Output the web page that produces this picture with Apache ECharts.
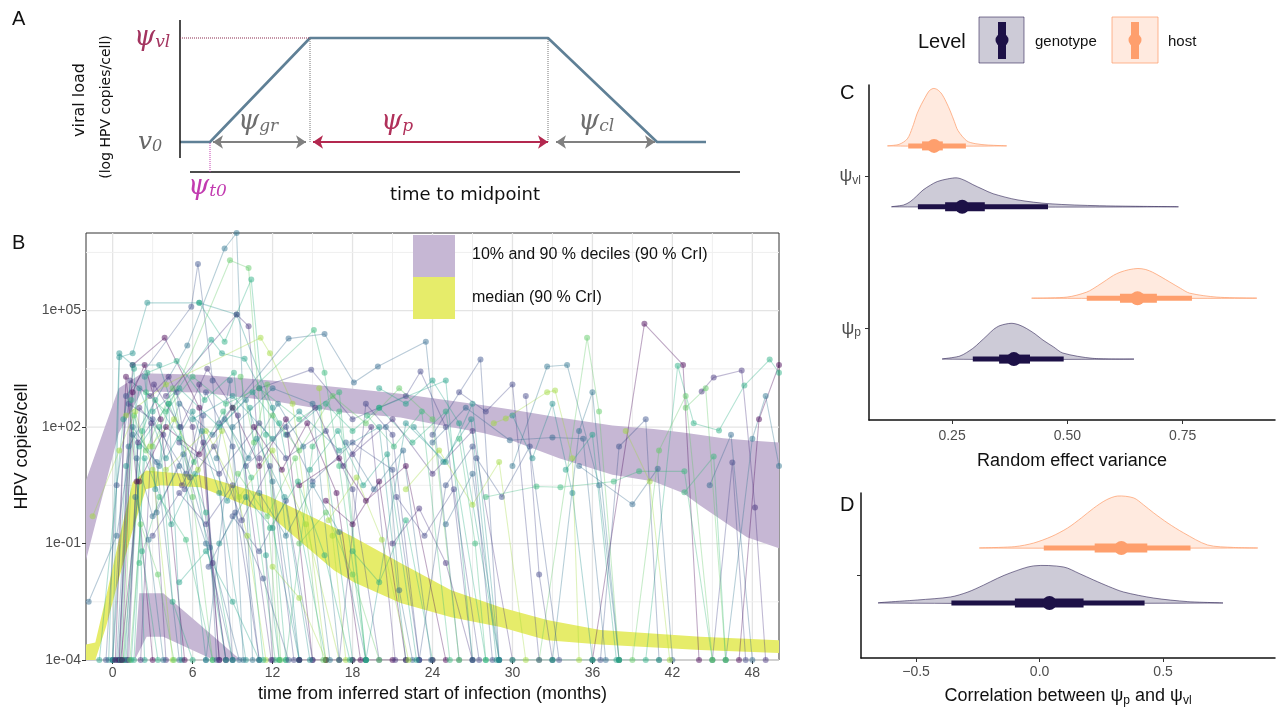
<!DOCTYPE html>
<html><head><meta charset="utf-8">
<script src="https://cdn.jsdelivr.net/npm/echarts@6/dist/echarts.min.js"></script>
<style>html,body{margin:0;padding:0;background:#fff}#c{width:1281px;height:711px}</style>
</head><body><div id="c"></div>
<script>
// ================= DATA =================
// Panel A: schematic trajectory (arbitrary time / load units)
const schemX = [0, 3, 13, 36.8, 47.7, 52.6];
const schemY = [3, 3, 13.4, 13.4, 3, 3];

// Panel B: axis ticks
const xTicksB = [0, 6, 12, 18, 24, 30, 36, 42, 48];
const xMinorB = [3, 9, 15, 21, 27, 33, 39, 45];
const yTicksB = [-4, -1, 2, 5];               // log10 copies/cell
const yMinorB = [-2.5, 0.5, 3.5, 6.5];
const yTickLabelsB = ['1e-04', '1e-01', '1e+02', '1e+05'];

// Panel B: upper decile band (90% CrI), log10 scale
const upperBandX  = [-2, 0.45, 2.2, 6.6, 11.9, 17.1, 21.6, 23.9, 27.8, 29.9, 33.5, 37.5, 40.6, 42.8, 44, 45.8, 47.6, 50];
const upperBandHi = [0.63, 3.0, 3.39, 3.35, 3.2, 3.02, 2.86, 2.75, 2.56, 2.45, 2.25, 2.04, 1.95, 1.86, 1.8, 1.71, 1.66, 1.6];
const upperBandLo = [-1.43, 1.84, 2.92, 2.89, 2.68, 2.38, 2.25, 2.09, 1.85, 1.66, 1.2, 0.77, 0.6, 0.3, 0.0, -0.42, -0.84, -1.12];
// lower decile band
const lowerBandX  = [1.65, 2.0, 2.55, 3.8, 7.6, 9.6];
const lowerBandHi = [-4, -2.28, -2.28, -2.28, -3.4, -4];
const lowerBandLo = [-4, -3.77, -3.4, -3.4, -4, -4];
// median band
const medBandX  = [-2, -1.3, -0.5, 0.5, 1.5, 2.5, 3.6, 6.6, 9.6, 11.6, 14.6, 16.6, 18.1, 21.6, 25.4, 29.1, 32.6, 36.6, 44.1, 50];
const medBandHi = [-3.6, -3.55, -2.38, -0.86, 0.58, 0.88, 0.85, 0.76, 0.45, 0.24, -0.25, -0.58, -0.84, -1.5, -2.2, -2.64, -2.97, -3.23, -3.4, -3.49];
const medBandLo = [-4, -4, -3.15, -1.87, -0.66, 0.4, 0.5, 0.45, 0.04, -0.22, -1.1, -1.69, -2.0, -2.53, -2.9, -3.15, -3.49, -3.6, -3.74, -3.82];

// Panel B: individual trajectories [month, log10 copies/cell]; -4 = undetected
const trajectories = [
 [[0,-4],[0.5,3.8],[1.5,3.9],[2.6,5.2],[6.5,5.2],[9.3,4.9],[12,2.5],[14,-4]],
 [[0,-4],[1,2.8],[5.9,5.1],[6.4,6.2],[7.5,3.2],[9,-4]],
 [[0.3,-4],[1.2,1.5],[5.6,4.1],[8.4,6.6],[9.3,7.0],[10.5,-4]],
 [[3,1.5],[8.8,6.3],[10.2,6.1],[12.5,-4]],
 [[0.5,-4],[1.5,3.6],[3.9,4.3],[6.5,2.5],[8,-4]],
 [[6.5,5.2],[8.4,4.2],[10.4,5.8],[11.5,1.8],[13,-4]],
 [[4,2.8],[9.3,4.9],[10.2,4.6],[11,1.2],[12,-4]],
 [[2,1.5],[7.4,4.25],[8.2,3.9],[9.9,3.76],[12.5,2.1],[16,-4]],
 [[1,2.3],[4,3.1],[11.1,4.3],[11.8,3.9],[13.5,2.6],[16,-4]],
 [[8,2.1],[13.2,4.28],[15.9,4.4],[18.1,3.15],[19.9,3.56],[23.5,4.2],[26,-4]],
 [[9,2.5],[15.1,4.5],[15.9,3.4],[17,1.0],[19,-4]],
 [[11,3.0],[14.9,3.48],[18,2.2],[22,2.8],[23.1,3.43],[25,2.0],[27,-4]],
 [[-0.3,-4],[0.5,3.9],[1.5,3.6],[3.5,3.6],[5,2.0],[7,-4]],
 [[24,1.8],[27.6,3.74],[29,-4]],
 [[30,1.0],[32.6,3.56],[34.1,3.6],[36.5,0.5],[38,-4]],
 [[32,-4],[35.6,4.3],[36.5,2.4],[38,-4]],
 [[36,-4],[39.9,4.66],[42.8,3.6],[44,-4]],
 [[40,-4],[42.4,3.58],[43.6,2.1],[45.5,1.91],[47.4,3.07],[49.3,3.74],[50,3.4]],
 [[44.2,2.92],[45.1,3.28],[47.2,3.46],[48.2,-0.07],[49,-4]],
 [[20,2.5],[25,3.2],[27,-4]],
 [[28.6,2.1],[29.5,2.22],[32.6,2.9],[33.2,2.94],[34.5,1.2],[35,-4]],
 [[35,1.0],[39,0.01],[40.9,0.93],[42,-4]],
 [[42.9,0.32],[45.1,1.24],[46,-4]],
 [[45,-4],[46.5,1.09],[47.5,-4]],
 [[0,-4],[1,1.0],[2,3.0],[4,1.2],[6,2.4],[8,0.3],[10,-4]],
 [[-0.5,-4],[0.3,0.5],[1.2,2.6],[3,2.2],[5.5,0.8],[7,2.9],[9,1.5],[11,-4]],
 [[0.4,-4],[1.5,2.0],[3.5,1.0],[5,2.6],[7.5,1.8],[10,2.7],[12,0.6],[14,-4]],
 [[0.8,-4],[1.6,2.3],[2.5,1.4],[4.5,3.0],[6,0.2],[7.5,-4]],
 [[0.6,-4],[2,0.6],[4,2.0],[6.5,1.3],[9,2.5],[11,1.0],[13,2.2],[15,-4]],
 [[1,-4],[2.2,1.9],[3.2,2.7],[5,1.7],[7,-0.2],[9,-4]],
 [[0.5,-4],[1.3,3.2],[2.8,2.8],[4.2,3.3],[6,2.0],[8.5,-4]],
 [[3,2.4],[5,3.0],[8,2.0],[10.5,2.9],[13,1.8],[15.5,2.5],[18,-4]],
 [[4,0.9],[7,1.9],[9.5,0.2],[12,1.4],[14.5,-0.5],[17,-4]],
 [[1.8,1.2],[3,-0.3],[5,1.0],[7,-1.0],[9,-4]],
 [[0.8,-4],[2.5,2.9],[4,2.4],[6,3.3],[8.5,2.6],[11,3.0],[14,2.2],[17,2.9],[19,-4]],
 [[5,1.6],[8,0.8],[11,2.1],[13,1.2],[16,1.9],[18,0.4],[20,-4]],
 [[6,2.2],[9,2.8],[12,1.7],[14,2.4],[17,1.4],[20,2.0],[22,-4]],
 [[10,1.0],[13,2.0],[15,0.6],[18,1.6],[21,0.9],[23,-4]],
 [[7,-4],[9,2.0],[12,3.0],[15,2.6],[17,-4]],
 [[12,2.3],[14,1.4],[16.5,2.8],[19,2.1],[21.5,3.0],[24,2.2],[26,-4]],
 [[14,0.5],[17,1.2],[19,0.1],[22,1.0],[25,-4]],
 [[16,2.6],[18,1.9],[20,2.5],[22.5,1.6],[25,2.4],[28,-4]],
 [[18,1.3],[21,2.2],[24,0.8],[27,1.9],[30,-4]],
 [[20,3.0],[22,2.6],[24,3.2],[26,2.1],[29,-4]],
 [[22,0.4],[24.5,1.4],[27,0.0],[29,1.1],[31,-4]],
 [[24,1.6],[26.5,2.5],[29.8,1.66],[33,1.73],[35.3,1.7],[37,-4]],
 [[28,0.2],[31.8,0.47],[33.6,0.45],[37.6,0.6],[39.5,0.86],[42.9,0.86],[45,-4]],
 [[26,2.9],[28,2.4],[30,3.1],[32,-4]],
 [[30,2.3],[31.5,1.2],[33,2.6],[34.5,0.3],[36,-4]],
 [[36.6,-4],[38,1.5],[40,2.2],[41,-4]],
 [[46,-4],[48,1.7],[49,2.8],[50,1.0]],
 [[43,2.5],[44.5,3.0],[46,-4]],
 [[0.2,-4],[1,3.3],[1.8,0.6],[3,-4]],
 [[0.6,-4],[1.4,2.7],[2.2,-1.2],[3.4,-4]],
 [[1.1,-4],[1.9,1.6],[2.9,2.1],[4,-4]],
 [[-1,-4],[0.8,2.2],[1.6,3.5],[2.4,-4]],
 [[-1.5,-0.3],[0.5,1.4],[1.7,2.4],[3,0.9],[4.5,-4]],
 [[-1.8,-2.5],[0.3,-0.8],[1.5,1.8],[3.3,1.1],[5,-4]],
 [[2,-1.5],[3.5,0.2],[5.5,-0.9],[7.5,-4]],
 [[3,-0.8],[5,0.3],[7,-0.5],[9,0.5],[11,-4]],
 [[8,-1.0],[10,0.2],[12,-0.6],[14,-4]],
 [[9,-0.3],[11,-1.2],[13,0.1],[15,-4]],
 [[11,0.3],[13,-0.8],[15,0.5],[17,-0.7],[19,-4]],
 [[14,-1.0],[16,-0.2],[18,-1.8],[20,-4]],
 [[16,0.1],[18,-0.5],[20,0.6],[22,-4]],
 [[18,-1.2],[20,-2.0],[22,-0.4],[24,-4]],
 [[21,-1.0],[23,-0.1],[25,-1.5],[27,-4]],
 [[5,-2.0],[7,-1.2],[9,-2.5],[11,-4]],
 [[12,-1.6],[14,-2.4],[16,-4]],
 [[25,-0.5],[27,0.8],[29,-4]],
 [[13,-4],[15,1.5],[17,2.4],[19,-4]],
 [[17,-4],[19,2.6],[21,1.8],[23,-4]],
 [[19,-4],[22,2.1],[25,1.1],[27,2.6],[29,-4]],
 [[23,-4],[25,0.5],[27,1.5],[28.5,-4]],
 [[33,-4],[35,1.9],[36,2.9],[38,-4]],
 [[39,-4],[41,1.4],[43,2.8],[45,-4]],
 [[47,-4],[48.5,2.2],[50,3.6]],
 [[3.5,2.0],[4.5,-2.5],[6,-4]],
 [[6.5,3.1],[7.5,-1.5],[8.5,-4]],
 [[10.3,2.5],[11.5,-1.3],[12.5,-4]],
 [[15.5,3.0],[16.5,-0.8],[17.5,-4]],
 [[20.5,2.0],[21.5,-2.2],[22.5,-4]],
 [[26,1.7],[27.2,-1.0],[28,-4]],
 [[31,2.8],[32,-1.8],[33,-4]],
 [[2.4,3.3],[3.2,0.4],[4.2,2.6],[5.2,-4]],
 [[4.8,2.9],[5.8,0.7],[6.8,2.3],[7.8,-4]],
 [[7.8,1.2],[8.8,3.2],[9.8,-4]],
 [[9.6,3.3],[10.6,1.6],[11.6,3.1],[12.6,-4]],
 [[14,-4],[16,-4],[18,-4],[21,-4],[24,-4]],
 [[30,-4],[33,-4],[36,-4],[38,-4],[41,-4]],
 [[1.2,-4],[2,2.5],[3.8,1.8],[5.2,0.5],[6.8,1.6],[8,-4]],
 [[1.4,-4],[2.4,1.2],[4.4,-0.5],[6.2,0.8],[8.5,-4]],
 [[2.8,1.5],[4.6,2.2],[6.4,0.9],[8.2,1.9],[10.1,-0.8],[11.5,-4]],
 [[3.3,-0.2],[5.3,1.3],[7.3,-1.1],[9.5,-4]],
 [[4.2,2.6],[6.1,1.1],[8.3,2.4],[10.4,0.7],[12.2,-4]],
 [[5.4,0.4],[7.6,1.5],[9.7,-0.4],[11.8,1.0],[13.6,-4]],
 [[6.7,1.9],[8.6,0.1],[10.8,1.7],[12.9,0.2],[14.8,-4]],
 [[7.2,-1.6],[9.2,-0.2],[11.3,-1.9],[13.2,-4]],
 [[8.4,2.2],[10.2,1.2],[12.4,2.6],[14.3,1.5],[16.3,-4]],
 [[9.4,0.8],[11.6,-0.3],[13.7,1.2],[15.8,-4]],
 [[10.6,2.0],[12.7,0.9],[14.6,2.1],[16.8,0.3],[18.6,-4]],
 [[11.8,-0.6],[13.9,0.6],[15.9,-1.3],[17.8,-4]],
 [[13.1,1.8],[15.2,2.5],[17.3,1.0],[19.4,2.0],[21.2,-4]],
 [[14.8,0.9],[16.9,1.9],[18.8,0.5],[20.6,1.3],[22.8,-4]],
 [[16.2,-0.4],[18.3,0.7],[20.2,-0.9],[22.2,-4]],
 [[17.5,1.6],[19.6,0.4],[21.8,1.4],[23.9,-4]],
 [[19.1,2.3],[21.1,1.5],[23.2,2.4],[25.3,-4]],
 [[21.3,0.2],[23.4,-0.8],[25.6,0.4],[27.5,-4]],
 [[22.6,2.0],[24.8,1.1],[26.9,2.2],[28.8,-4]],
 [[27.3,1.2],[29.2,0.2],[31.3,1.5],[33.5,-4]],
 [[0.9,-4],[1.7,0.2],[2.7,-0.9],[3.8,-4]],
 [[1.3,-4],[2.1,-0.5],[3.4,-1.8],[4.6,-4]],
 [[0.7,-4],[1.5,2.9],[2.4,3.6],[3.6,2.2],[5.4,-4]],
 [[1.6,-4],[2.6,3.4],[4.8,3.7],[6.9,2.7],[9.1,3.4],[11.3,-4]],
 [[2.1,-4],[3.1,3.1],[5.1,2.0],[7.1,3.5],[9.4,2.3],[11.9,-4]],
 [[34,0.9],[36,1.8],[37.8,-4]],
 [[38.5,1.9],[40.3,0.6],[41.8,-4]],
 [[44.8,0.5],[46.4,1.8],[48,-4]]
];

// Panel C: random effect variance posteriors (x = variance, h = scaled density); row 2 = psi_vl, row 1 = psi_p
const hostVlX = [0.111, 0.135, 0.153, 0.164, 0.174, 0.183, 0.192, 0.2, 0.209, 0.218, 0.228, 0.237, 0.246, 0.255, 0.263, 0.282, 0.3, 0.326, 0.367];
const hostVlH = [0, 0.01, 0.046, 0.12, 0.21, 0.27, 0.32, 0.36, 0.377, 0.37, 0.34, 0.29, 0.23, 0.16, 0.1, 0.033, 0.015, 0.006, 0];
const genoVlX = [0.12, 0.145, 0.159, 0.173, 0.187, 0.203, 0.218, 0.24, 0.261, 0.278, 0.295, 0.317, 0.339, 0.391, 0.462, 0.57, 0.737];
const genoVlH = [0, 0.012, 0.033, 0.07, 0.11, 0.142, 0.166, 0.183, 0.19, 0.173, 0.146, 0.115, 0.086, 0.046, 0.02, 0.007, 0];
const hostPX = [0.425, 0.499, 0.542, 0.565, 0.585, 0.6, 0.614, 0.633, 0.653, 0.67, 0.685, 0.703, 0.722, 0.745, 0.765, 0.824, 0.908];
const hostPH = [0, 0.007, 0.04, 0.08, 0.12, 0.15, 0.17, 0.187, 0.195, 0.188, 0.17, 0.14, 0.106, 0.065, 0.033, 0.007, 0];
const genoPX = [0.23, 0.267, 0.295, 0.31, 0.326, 0.34, 0.354, 0.378, 0.395, 0.412, 0.43, 0.447, 0.47, 0.49, 0.555, 0.642];
const genoPH = [0, 0.02, 0.07, 0.11, 0.155, 0.195, 0.22, 0.235, 0.225, 0.2, 0.165, 0.125, 0.08, 0.04, 0.005, 0];
// intervals: [2.5%, 17%, median, 83%, 97.5%, row]
const hostIntervalsC = [[0.155, 0.185, 0.211, 0.23, 0.28, 2], [0.542, 0.614, 0.652, 0.694, 0.77, 1]];
const genoIntervalsC = [[0.176, 0.235, 0.272, 0.321, 0.458, 2], [0.295, 0.352, 0.384, 0.419, 0.492, 1]];
const xTicksC = [0.25, 0.5, 0.75];
const yRowsC = [1, 2];
const yRowLabelsC = ['p', 'vl'];

// Panel D: correlation posteriors
const hostCorX = [-0.239, -0.1, -0.024, 0.05, 0.113, 0.17, 0.219, 0.27, 0.316, 0.381, 0.42, 0.462, 0.52, 0.583, 0.68, 0.785, 0.879];
const hostCorH = [0, 0.01, 0.036, 0.085, 0.145, 0.22, 0.29, 0.35, 0.378, 0.364, 0.315, 0.255, 0.18, 0.11, 0.022, 0.004, 0];
const genoCorX = [-0.648, -0.494, -0.36, -0.29, -0.227, -0.17, -0.117, -0.024, 0.097, 0.16, 0.219, 0.28, 0.34, 0.462, 0.6, 0.737];
const genoCorH = [0, 0.022, 0.044, 0.08, 0.13, 0.18, 0.22, 0.27, 0.262, 0.215, 0.167, 0.12, 0.08, 0.036, 0.01, 0];
const hostIntervalsD = [[0.017, 0.223, 0.331, 0.436, 0.611, 1]];
const genoIntervalsD = [[-0.357, -0.1, 0.04, 0.178, 0.425, 1]];
const xTicksD = [-0.5, 0, 0.5];

// ================= STYLE =================
const SANS = 'Liberation Sans, Arial, sans-serif';
const GENO = '#1d1147', HOST = '#fe9f6d';
const GENO_FILL = 'rgba(29,17,71,0.22)', GENO_LINE = 'rgba(29,17,71,0.55)';
const HOST_FILL = 'rgba(254,159,109,0.22)', HOST_LINE = 'rgba(254,159,109,0.75)';
const PURPLE_BAND = '#c6b7d4', YELLOW_BAND = '#e6ec6a';
const trajPalette = ['#21908d','#3b528b','#2c728e','#5dc863','#440154','#27ad81','#46327e','#1fa187','#9fda3a','#31688e','#35b779','#414487'];
const DODGE = 0.2;

const chart = echarts.init(document.getElementById('c'), null, {renderer: 'canvas'});

function bandSeries(xs, lo, hi, color, z) {
  return {
    type: 'custom', xAxisIndex: 1, yAxisIndex: 1, silent: true, z: z, clip: true,
    data: xs.map((x, i) => [x, hi[i]]), encode: {x: 0, y: 1},
    renderItem: (params, api) => {
      if (params.dataIndex !== 0) return null;
      const pts = [];
      for (let i = 0; i < xs.length; i++) pts.push(api.coord([xs[i], hi[i]]));
      for (let i = xs.length - 1; i >= 0; i--) pts.push(api.coord([xs[i], lo[i]]));
      return {type: 'polygon', shape: {points: pts}, style: {fill: color}};
    }
  };
}
function gridLineSeries(vals, vertical, color, width) {
  return {
    type: 'custom', xAxisIndex: 1, yAxisIndex: 1, silent: true, z: 1,
    data: vals.map(v => vertical ? [v, -4] : [-2, v]), encode: {x: 0, y: 1},
    renderItem: (params, api) => {
      const v = vals[params.dataIndex];
      const a = vertical ? api.coord([v, -4]) : api.coord([-2, v]);
      const b = vertical ? api.coord([v, 7]) : api.coord([50, v]);
      return {type: 'line', shape: {x1: a[0], y1: a[1], x2: b[0], y2: b[1]}, style: {stroke: color, lineWidth: width}};
    }
  };
}
function densitySeries(ax, xs, hs, base, fill, stroke) {
  return {
    type: 'custom', xAxisIndex: ax, yAxisIndex: ax, silent: true, z: 3,
    data: xs.map((x, i) => [x, base + hs[i]]), encode: {x: 0, y: 1},
    renderItem: (params, api) => {
      if (params.dataIndex !== 0) return null;
      const pts = xs.map((x, i) => api.coord([x, base + hs[i]]));
      return {type: 'polygon', shape: {points: pts, smooth: 0.3}, style: {fill: fill, stroke: stroke, lineWidth: 1}};
    }
  };
}
function intervalSeries(ax, rows, offset, color) {
  return {
    type: 'custom', xAxisIndex: ax, yAxisIndex: ax, silent: true, z: 4,
    data: rows.map(r => [r[0], r[1], r[2], r[3], r[4], r[5] + offset]),
    encode: {x: [0, 1, 2, 3, 4], y: 5},
    renderItem: (params, api) => {
      const b = api.value(5);
      const a95 = api.coord([api.value(0), b]), b95 = api.coord([api.value(4), b]);
      const a66 = api.coord([api.value(1), b]), b66 = api.coord([api.value(3), b]);
      const m = api.coord([api.value(2), b]);
      return {type: 'group', children: [
        {type: 'line', shape: {x1: a95[0], y1: a95[1], x2: b95[0], y2: b95[1]}, style: {stroke: color, lineWidth: 5}},
        {type: 'line', shape: {x1: a66[0], y1: a66[1], x2: b66[0], y2: b66[1]}, style: {stroke: color, lineWidth: 9}},
        {type: 'circle', shape: {cx: m[0], cy: m[1], r: 7}, style: {fill: color}}
      ]};
    }
  };
}

const series = [];
// ---- Panel A ----
series.push({type: 'line', xAxisIndex: 0, yAxisIndex: 0, data: schemX.map((x, i) => [x, schemY[i]]), symbol: 'none', clip: false, silent: true,
  lineStyle: {color: '#5f8096', width: 2.6}, z: 3});
series.push({type: 'line', xAxisIndex: 0, yAxisIndex: 0, data: [[0, 1.4], [0, 15.2]], symbol: 'none', clip: false, silent: true, lineStyle: {color: '#111', width: 1.5}});
series.push({type: 'line', xAxisIndex: 0, yAxisIndex: 0, data: [[1, 0], [56, 0]], symbol: 'none', clip: false, silent: true, lineStyle: {color: '#111', width: 1.5}});
series.push({type: 'line', xAxisIndex: 0, yAxisIndex: 0, data: [[0, schemY[2]], [schemX[2], schemY[2]]], symbol: 'none', clip: false, silent: true, lineStyle: {color: '#8a2a4f', width: 1, type: 'dotted'}});
series.push({type: 'line', xAxisIndex: 0, yAxisIndex: 0, data: [[schemX[2], schemY[0]], [schemX[2], schemY[2]]], symbol: 'none', clip: false, silent: true, lineStyle: {color: '#777', width: 1, type: 'dotted'}});
series.push({type: 'line', xAxisIndex: 0, yAxisIndex: 0, data: [[schemX[3], schemY[0]], [schemX[3], schemY[3]]], symbol: 'none', clip: false, silent: true, lineStyle: {color: '#777', width: 1, type: 'dotted'}});
series.push({type: 'line', xAxisIndex: 0, yAxisIndex: 0, data: [[schemX[1], 0], [schemX[1], schemY[1]]], symbol: 'none', clip: false, silent: true, lineStyle: {color: '#c43cb0', width: 1, type: 'dotted'}});
series.push({type: 'lines', coordinateSystem: 'cartesian2d', xAxisIndex: 0, yAxisIndex: 0, silent: true, symbol: ['arrow', 'arrow'], symbolSize: 10, z: 4,
  data: [
    {coords: [[schemX[1] + 0.3, schemY[0]], [schemX[2] - 0.4, schemY[0]]], lineStyle: {color: '#808080'}},
    {coords: [[schemX[2] + 0.3, schemY[0]], [schemX[3], schemY[0]]], lineStyle: {color: '#b3284f'}},
    {coords: [[schemX[3] + 0.8, schemY[0]], [schemX[4] - 0.2, schemY[0]]], lineStyle: {color: '#808080'}}
  ],
  lineStyle: {width: 2, opacity: 1}});

// ---- Panel B ----
series.push(gridLineSeries(xMinorB, true, '#efefef', 1));
series.push(gridLineSeries(xTicksB, true, '#e4e4e4', 1.3));
series.push(gridLineSeries(yMinorB, false, '#efefef', 1));
series.push(gridLineSeries(yTicksB, false, '#e4e4e4', 1.3));
series.push(bandSeries(upperBandX, upperBandLo, upperBandHi, PURPLE_BAND, 2));
series.push(bandSeries(lowerBandX, lowerBandLo, lowerBandHi, PURPLE_BAND, 2));
series.push(bandSeries(medBandX, medBandLo, medBandHi, YELLOW_BAND, 2));
trajectories.forEach((t, i) => {
  const c = trajPalette[i % trajPalette.length];
  series.push({type: 'line', xAxisIndex: 1, yAxisIndex: 1, data: t, symbol: 'circle', symbolSize: 6, z: 3, silent: true, clip: true,
    lineStyle: {color: c, width: 1.1, opacity: 0.34}, itemStyle: {color: c, opacity: 0.48}, emphasis: {disabled: true}});
});

// ---- Panel C ----
series.push(densitySeries(2, hostVlX, hostVlH, 2 + DODGE, HOST_FILL, HOST_LINE));
series.push(densitySeries(2, genoVlX, genoVlH, 2 - DODGE, GENO_FILL, GENO_LINE));
series.push(densitySeries(2, hostPX, hostPH, 1 + DODGE, HOST_FILL, HOST_LINE));
series.push(densitySeries(2, genoPX, genoPH, 1 - DODGE, GENO_FILL, GENO_LINE));
series.push(intervalSeries(2, hostIntervalsC, DODGE, HOST));
series.push(intervalSeries(2, genoIntervalsC, -DODGE, GENO));
// ---- Panel D ----
series.push(densitySeries(3, hostCorX, hostCorH, 1 + DODGE, HOST_FILL, HOST_LINE));
series.push(densitySeries(3, genoCorX, genoCorH, 1 - DODGE, GENO_FILL, GENO_LINE));
series.push(intervalSeries(3, hostIntervalsD, DODGE, HOST));
series.push(intervalSeries(3, genoIntervalsD, -DODGE, GENO));

const hidden = {show: false};
const blackAxis = {show: true, onZero: false, lineStyle: {color: '#111', width: 1.5}};
const tickStyle = {lineStyle: {color: '#333', width: 1}, length: 4};
const labelStyle = {color: '#4d4d4d', fontSize: 14, fontFamily: SANS};

const option = {
  animation: false,
  backgroundColor: '#fff',
  grid: [
    {left: 180, top: 20, width: 560, height: 152},
    {left: 86, top: 233, width: 693, height: 427, show: true, borderColor: '#333', borderWidth: 1, backgroundColor: 'transparent'},
    {left: 869, top: 85, width: 406, height: 335},
    {left: 861, top: 493, width: 414, height: 165}
  ],
  xAxis: [
    {gridIndex: 0, type: 'value', min: 0, max: 56, show: false},
    {gridIndex: 1, type: 'value', min: -2, max: 50,
      axisLine: {show: false, onZero: false}, splitLine: hidden,
      axisTick: Object.assign({show: true, customValues: xTicksB}, tickStyle),
      axisLabel: Object.assign({customValues: xTicksB, margin: 6, formatter: v => String(v)}, labelStyle),
      name: 'time from inferred start of infection (months)', nameLocation: 'middle', nameGap: 20,
      nameTextStyle: {fontSize: 18, color: '#111', fontFamily: SANS}},
    {gridIndex: 2, type: 'value', min: 0.07, max: 0.95, axisLine: blackAxis, splitLine: hidden,
      axisTick: Object.assign({show: true, customValues: xTicksC}, tickStyle),
      axisLabel: Object.assign({customValues: xTicksC, margin: 9, formatter: v => v.toFixed(2)}, labelStyle),
      name: 'Random effect variance', nameLocation: 'middle', nameGap: 32,
      nameTextStyle: {fontSize: 18, color: '#111', fontFamily: SANS}},
    {gridIndex: 3, type: 'value', min: -0.723, max: 0.953, axisLine: blackAxis, splitLine: hidden,
      axisTick: Object.assign({show: true, customValues: xTicksD}, tickStyle),
      axisLabel: Object.assign({customValues: xTicksD, margin: 7, formatter: v => (v < 0 ? '\u2212' : '') + Math.abs(v).toFixed(1)}, labelStyle),
      name: 'Correlation between \u03c8{s|p} and \u03c8{s|vl}', nameLocation: 'middle', nameGap: 28,
      nameTextStyle: {fontSize: 18, color: '#111', fontFamily: SANS, rich: {s: {fontSize: 12, color: '#111', fontFamily: SANS, padding: [9, 0, 0, 0]}}}}
  ],
  yAxis: [
    {gridIndex: 0, type: 'value', min: 0, max: 15.2, show: false},
    {gridIndex: 1, type: 'value', min: -4, max: 7, interval: 3,
      axisLine: {show: false, onZero: false}, splitLine: hidden,
      axisTick: Object.assign({show: true, customValues: yTicksB}, tickStyle),
      axisLabel: Object.assign({customValues: yTicksB, margin: 5, formatter: v => yTickLabelsB[yTicksB.indexOf(v)] || ''}, labelStyle),
      name: 'HPV copies/cell', nameLocation: 'middle', nameGap: 54, nameRotate: 90,
      nameTextStyle: {fontSize: 18, color: '#111', fontFamily: SANS}},
    {gridIndex: 2, type: 'value', min: 0.4, max: 2.6, axisLine: blackAxis, splitLine: hidden,
      axisTick: Object.assign({show: true, customValues: yRowsC}, tickStyle),
      axisLabel: {customValues: yRowsC, margin: 8, color: '#4d4d4d', fontFamily: SANS,
        formatter: v => '{p|\u03c8}{s|' + yRowLabelsC[yRowsC.indexOf(v)] + '}',
        rich: {p: {fontSize: 18, color: '#4d4d4d', fontFamily: SANS}, s: {fontSize: 12, color: '#4d4d4d', fontFamily: SANS, padding: [9, 0, 0, 0]}}}},
    {gridIndex: 3, type: 'value', min: 0.4, max: 1.6, axisLine: blackAxis, splitLine: hidden,
      axisTick: Object.assign({show: true, customValues: [1]}, tickStyle),
      axisLabel: {show: false}}
  ],
  series: series,
  graphic: [
    // panel letters
    {type: 'text', x: 12, y: 19, style: {text: 'A', fontSize: 20, fontFamily: SANS, fill: '#111', verticalAlign: 'middle'}},
    {type: 'text', x: 12, y: 243, style: {text: 'B', fontSize: 20, fontFamily: SANS, fill: '#111', verticalAlign: 'middle'}},
    {type: 'text', x: 840, y: 93, style: {text: 'C', fontSize: 20, fontFamily: SANS, fill: '#111', verticalAlign: 'middle'}},
    {type: 'text', x: 840, y: 505, style: {text: 'D', fontSize: 20, fontFamily: SANS, fill: '#111', verticalAlign: 'middle'}},
    // panel A labels
    {type: 'text', x: 80, y: 100, rotation: Math.PI / 2, style: {text: 'viral load', fontSize: 16, fontFamily: 'DejaVu Sans', fill: '#111', align: 'center', verticalAlign: 'middle'}},
    {type: 'text', x: 106, y: 107, rotation: Math.PI / 2, style: {text: '(log HPV copies/cell)', fontSize: 14, fontFamily: 'DejaVu Sans', fill: '#111', align: 'center', verticalAlign: 'middle'}},
    {type: 'text', x: 465, y: 195, style: {text: 'time to midpoint', fontSize: 18, fontFamily: 'DejaVu Sans', fill: '#111', align: 'center', verticalAlign: 'middle'}},
    {type: 'text', x: 134, y: 38, style: {text: '{a|\u03c8}{b|vl}', verticalAlign: 'middle',
      rich: {a: {fontSize: 27, fontStyle: 'italic', fontFamily: 'DejaVu Serif', fill: '#a3345f'}, b: {fontSize: 17, fontStyle: 'italic', fontFamily: 'DejaVu Serif', fill: '#a3345f', padding: [10, 0, 0, 0]}}}},
    {type: 'text', x: 138, y: 142, style: {text: '{a|v}{b|0}', verticalAlign: 'middle',
      rich: {a: {fontSize: 25, fontStyle: 'italic', fontFamily: 'DejaVu Serif', fill: '#666'}, b: {fontSize: 16, fontStyle: 'italic', fontFamily: 'DejaVu Serif', fill: '#666', padding: [10, 0, 0, 0]}}}},
    {type: 'text', x: 238, y: 122, style: {text: '{a|\u03c8}{b|gr}', verticalAlign: 'middle',
      rich: {a: {fontSize: 27, fontStyle: 'italic', fontFamily: 'DejaVu Serif', fill: '#6e6e6e'}, b: {fontSize: 17, fontStyle: 'italic', fontFamily: 'DejaVu Serif', fill: '#6e6e6e', padding: [10, 0, 0, 0]}}}},
    {type: 'text', x: 381, y: 122, style: {text: '{a|\u03c8}{b|p}', verticalAlign: 'middle',
      rich: {a: {fontSize: 27, fontStyle: 'italic', fontFamily: 'DejaVu Serif', fill: '#b0305a'}, b: {fontSize: 17, fontStyle: 'italic', fontFamily: 'DejaVu Serif', fill: '#b0305a', padding: [10, 0, 0, 0]}}}},
    {type: 'text', x: 578, y: 122, style: {text: '{a|\u03c8}{b|cl}', verticalAlign: 'middle',
      rich: {a: {fontSize: 27, fontStyle: 'italic', fontFamily: 'DejaVu Serif', fill: '#6e6e6e'}, b: {fontSize: 17, fontStyle: 'italic', fontFamily: 'DejaVu Serif', fill: '#6e6e6e', padding: [10, 0, 0, 0]}}}},
    {type: 'text', x: 188, y: 187, style: {text: '{a|\u03c8}{b|t0}', verticalAlign: 'middle',
      rich: {a: {fontSize: 27, fontStyle: 'italic', fontFamily: 'DejaVu Serif', fill: '#c23bb0'}, b: {fontSize: 17, fontStyle: 'italic', fontFamily: 'DejaVu Serif', fill: '#c23bb0', padding: [10, 0, 0, 0]}}}},
    // panel B legend
    {type: 'rect', shape: {x: 413, y: 235, width: 42, height: 42}, style: {fill: PURPLE_BAND}, z: 10},
    {type: 'rect', shape: {x: 413, y: 277, width: 42, height: 42}, style: {fill: YELLOW_BAND}, z: 10},
    {type: 'text', x: 472, y: 255, z: 10, style: {text: '10% and 90 % deciles (90 % CrI)', fontSize: 16, fontFamily: SANS, fill: '#111', verticalAlign: 'middle'}},
    {type: 'text', x: 472, y: 298, z: 10, style: {text: 'median (90 % CrI)', fontSize: 16, fontFamily: SANS, fill: '#111', verticalAlign: 'middle'}},
    // panel C/D legend
    {type: 'text', x: 918, y: 42, style: {text: 'Level', fontSize: 20, fontFamily: SANS, fill: '#111', verticalAlign: 'middle'}},
    {type: 'rect', shape: {x: 979, y: 17, width: 45, height: 46}, style: {fill: GENO_FILL, stroke: GENO_LINE, lineWidth: 1}},
    {type: 'rect', shape: {x: 998, y: 22, width: 8, height: 37}, style: {fill: GENO}},
    {type: 'circle', shape: {cx: 1002, cy: 40, r: 6.5}, style: {fill: GENO}},
    {type: 'text', x: 1035, y: 42, style: {text: 'genotype', fontSize: 15, fontFamily: SANS, fill: '#111', verticalAlign: 'middle'}},
    {type: 'rect', shape: {x: 1112, y: 17, width: 46, height: 46}, style: {fill: HOST_FILL, stroke: HOST_LINE, lineWidth: 1}},
    {type: 'rect', shape: {x: 1131, y: 22, width: 8, height: 37}, style: {fill: HOST}},
    {type: 'circle', shape: {cx: 1135, cy: 40, r: 6.5}, style: {fill: HOST}},
    {type: 'text', x: 1168, y: 42, style: {text: 'host', fontSize: 15, fontFamily: SANS, fill: '#111', verticalAlign: 'middle'}}
  ]
};
chart.setOption(option);
</script></body></html>
